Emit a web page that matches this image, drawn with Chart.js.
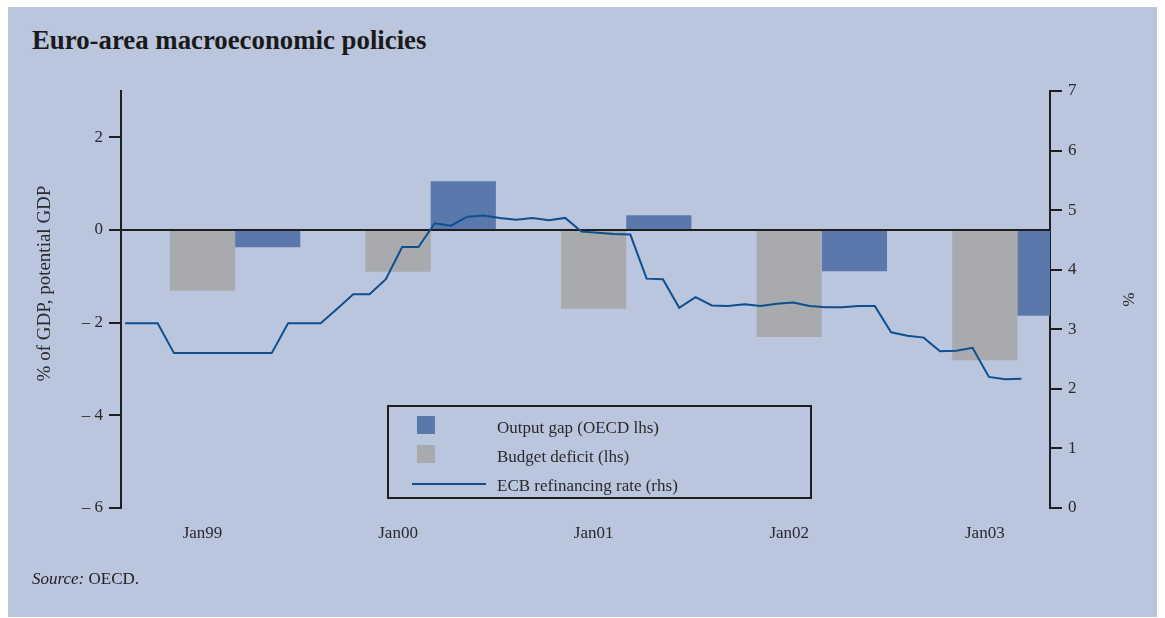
<!DOCTYPE html>
<html>
<head>
<meta charset="utf-8">
<script src="https://cdn.jsdelivr.net/npm/chart.js@4.4.0/dist/chart.umd.min.js"></script>
<style>
  body { margin:0; background:#fff; width:1165px; height:618px; overflow:hidden; position:relative; font-family:"Liberation Serif", serif; }
  #panel { position:absolute; left:8px; top:7px; width:1149px; height:610px; background:#bac5de; }
  #title { position:absolute; left:32px; top:27px; font-size:26.8px; line-height:1; font-weight:bold; color:#1a1a1a; white-space:nowrap; }
  #source { position:absolute; left:32px; top:570px; font-size:17px; line-height:1; color:#222; }
  canvas { position:absolute; left:0; top:0; }
</style>
</head>
<body>
<div id="panel"></div>
<div id="title">Euro-area macroeconomic policies</div>
<canvas id="myChart" width="1165" height="618"></canvas>
<div id="source"><i>Source:</i> OECD.</div>
<script>
// yearly bars, % of GDP (left axis)
let years = ['1999', '2000', '2001', '2002', '2003'];
let outputGap = [-0.37, 1.05, 0.32, -0.89, -1.85];
let budgetDeficit = [-1.31, -0.90, -1.70, -2.31, -2.81];

// monthly ECB rate, % (right axis), first point a bit before Jan99
let rateStart = -4.75;
let ecbRate = [
  3.10, 3.10, 3.10, 2.60, 2.60, 2.60, 2.60, 2.60, 2.60, 2.60,
  3.10, 3.10, 3.10, 3.34, 3.59, 3.59, 3.84, 4.38, 4.38, 4.78,
  4.74, 4.89, 4.91, 4.87, 4.84, 4.87, 4.83, 4.87, 4.64, 4.62,
  4.60, 4.59, 3.85, 3.84, 3.36, 3.54, 3.40, 3.39, 3.42, 3.39,
  3.43, 3.45, 3.39, 3.37, 3.37, 3.39, 3.39, 2.95, 2.89, 2.86,
  2.63, 2.64, 2.69, 2.20, 2.16, 2.17
];

// x axis counts months from Jan99
let xTicks = [0, 12, 24, 36, 48];
let xLabels = ['Jan99', 'Jan00', 'Jan01', 'Jan02', 'Jan03'];
let leftTicks = [-6, -4, -2, 0, 2];
let rightTicks = [0, 1, 2, 3, 4, 5, 6, 7];
let leftTitle = '% of GDP, potential GDP';

const ink = '#1e1e1e';
const txt = '#2a2a2a';
const font = { family: 'Liberation Serif', size: 17 };

// bars of one year are grouped round March: deficit sits on Jan, gap on May
function barPoints(vals) {
  return vals.map((v, i) => ({ x: 12 * i + 2, y: v }));
}

const legendBox = {
  id: 'legendBox',
  afterDraw(chart) {
    const ctx = chart.ctx, a = chart.chartArea;
    const x0 = a.left + 267, y0 = a.top + 315;
    const ds = chart.data.datasets;
    ctx.save();
    ctx.strokeStyle = ink;
    ctx.lineWidth = 2;
    ctx.strokeRect(x0, y0, 423, 92);
    ctx.font = '17px "Liberation Serif"';
    ctx.textBaseline = 'alphabetic';
    // output gap
    ctx.fillStyle = ds[2].backgroundColor;
    ctx.fillRect(x0 + 29, y0 + 10, 18, 18);
    ctx.fillStyle = txt;
    ctx.fillText(ds[2].label, x0 + 109, y0 + 27);
    // budget deficit
    ctx.fillStyle = ds[1].backgroundColor;
    ctx.fillRect(x0 + 29, y0 + 39, 18, 18);
    ctx.fillStyle = txt;
    ctx.fillText(ds[1].label, x0 + 109, y0 + 56);
    // rate
    ctx.strokeStyle = ds[0].borderColor;
    ctx.lineWidth = 2;
    ctx.beginPath();
    ctx.moveTo(x0 + 24, y0 + 78);
    ctx.lineTo(x0 + 98, y0 + 78);
    ctx.stroke();
    ctx.fillText(ds[0].label, x0 + 109, y0 + 85);

    // left axis title, sits a little above the middle of the axis
    ctx.font = '19px "Liberation Serif"';
    ctx.translate(45, (a.top + a.bottom) / 2 - 16);
    ctx.rotate(-Math.PI / 2);
    ctx.textAlign = 'center';
    ctx.textBaseline = 'middle';
    ctx.fillText(leftTitle, 0, 0);
    ctx.restore();
  }
};

new Chart('myChart', {
  type: 'bar',
  data: {
    datasets: [
      {
        type: 'line',
        label: 'ECB refinancing rate (rhs)',
        data: ecbRate.map((v, i) => ({ x: rateStart + i, y: v })),
        yAxisID: 'y1',
        borderColor: '#0d4f8f',
        borderWidth: 2,
        pointRadius: 0,
        tension: 0,
        order: 0
      },
      {
        label: 'Budget deficit (lhs)',
        data: barPoints(budgetDeficit),
        yAxisID: 'y',
        backgroundColor: '#a9aaad',
        categoryPercentage: 8 / 12,
        barPercentage: 1,
        order: 1
      },
      {
        label: 'Output gap (OECD lhs)',
        data: barPoints(outputGap),
        yAxisID: 'y',
        backgroundColor: '#5b78ac',
        categoryPercentage: 8 / 12,
        barPercentage: 1,
        order: 1
      }
    ]
  },
  options: {
    responsive: false,
    animation: false,
    layout: { padding: { top: 91, left: 0, right: 0, bottom: 0 } },
    plugins: { legend: { display: false }, tooltip: { enabled: false } },
    scales: {
      x: {
        type: 'linear',
        min: -5,
        max: 52,
        offset: false,
        grid: { display: false, drawTicks: false },
        border: { display: false },
        afterBuildTicks: s => { s.ticks = xTicks.map(v => ({ value: v })); },
        afterFit: s => { s.height = 110; },
        ticks: { padding: 15, font: font, color: txt, maxRotation: 0, autoSkip: false,
                 callback: (v, i) => xLabels[i] }
      },
      y: {
        position: 'left',
        min: -6,
        max: 3,
        z: 1,
        afterBuildTicks: s => { s.ticks = leftTicks.map(v => ({ value: v })); },
        afterFit: s => { s.width = 121; },
        grid: {
          color: c => (c.tick && c.tick.value === 0) ? ink : 'rgba(0,0,0,0)',
          tickColor: ink,
          lineWidth: 2,
          tickLength: 12
        },
        border: { display: true, color: ink, width: 2 },
        ticks: { padding: 6, font: font, color: txt,
                 callback: v => v < 0 ? '\u2013 ' + Math.abs(v) : String(v) }
      },
      y1: {
        position: 'right',
        min: 0,
        max: 7,
        afterBuildTicks: s => { s.ticks = rightTicks.map(v => ({ value: v })); },
        afterFit: s => { s.width = 115; },
        grid: { drawOnChartArea: false, tickColor: ink, lineWidth: 2, tickLength: 12 },
        border: { display: true, color: ink, width: 2 },
        ticks: { padding: 6, font: font, color: txt },
        title: { display: true, text: '%', font: font, color: txt,
                 padding: { top: 27, bottom: 0 } }
      }
    }
  },
  plugins: [legendBox]
});
</script>
</body>
</html>
